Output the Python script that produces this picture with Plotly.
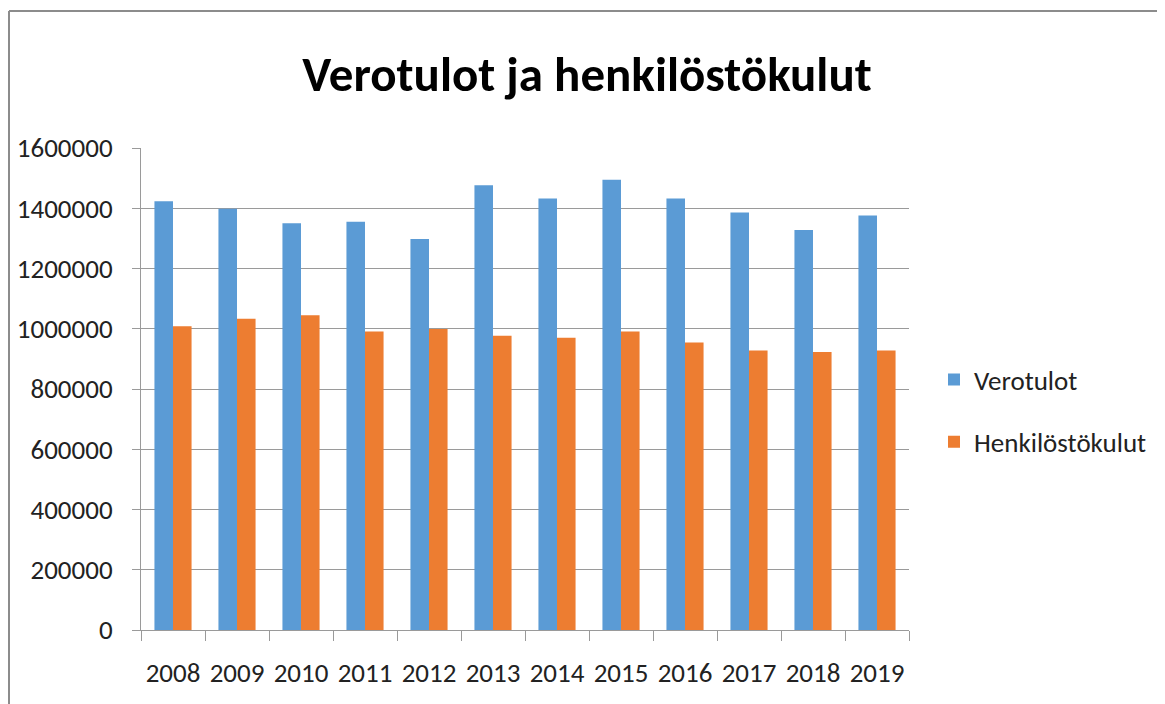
import plotly.graph_objects as go

years = ["2008", "2009", "2010", "2011", "2012", "2013", "2014", "2015", "2016", "2017", "2018", "2019"]
verotulot = [1423000, 1398000, 1350000, 1355000, 1298000, 1476000, 1432000, 1495000, 1432000, 1386000, 1328000, 1376000]
henkilostokulut = [1008000, 1033000, 1045000, 991000, 999000, 977000, 970000, 991000, 954000, 928000, 923000, 928000]

FONT = "Carlito, Calibri, 'Liberation Sans Narrow', 'DejaVu Sans Condensed', sans-serif"

fig = go.Figure()
fig.add_trace(go.Bar(x=years, y=verotulot, name="Verotulot", marker_color="#5B9BD5",
                     marker_line_width=0, legendgroup="a"))
fig.add_trace(go.Bar(x=years, y=henkilostokulut, name="Henkilöstökulut", marker_color="#ED7D31",
                     marker_line_width=0, legendgroup="b"))

# the page body adds an 8px offset; work in page pixels and convert
OFF = 8
W, H = 1157, 696
L, T = 141 - OFF, 148 - OFF
R = W - (909 - OFF)
B = H - (630 - OFF)
pw, ph = W - L - R, H - T - B

def px_x(p):
    return (p - OFF - L) / pw

def px_y(p):
    return (H - B - (p - OFF)) / ph

fig.update_layout(
    width=W, height=H,
    margin=dict(l=L, r=R, t=T, b=B, autoexpand=False),
    paper_bgcolor="white", plot_bgcolor="white",
    barmode="group", bargap=0.42, bargroupgap=0,
    font=dict(family=FONT, size=27, color="#222222"),
    title=dict(text="<b>Verotulot ja henkilöstökulut</b>", xref="container", x=(587 - OFF) / W,
               xanchor="center", yref="container", y=1 - (74 - OFF) / H, yanchor="middle",
               font=dict(family=FONT, size=49, color="black")),
    showlegend=True,
    legend=dict(x=px_x(934), xanchor="left", y=px_y(411), yanchor="middle",
                font=dict(family=FONT, size=27, color="#222222"),
                tracegroupgap=24, traceorder="grouped", itemwidth=30, bgcolor="rgba(0,0,0,0)"),
    xaxis=dict(showline=True, linecolor="#9A9A9A", linewidth=1, ticks="outside", tickson="boundaries",
               ticklen=10, tickcolor="#9A9A9A", showgrid=False, ticklabelstandoff=19, tickangle=0,
               tickfont=dict(family=FONT, size=27, color="#222222")),
    yaxis=dict(range=[0, 1600000], dtick=200000, tickformat="d", showline=True, linecolor="#9A9A9A",
               linewidth=1, ticks="outside", ticklen=8, tickcolor="#9A9A9A", showgrid=True,
               gridcolor="#9A9A9A", gridwidth=1.3, zeroline=False, ticklabelstandoff=14,
               tickfont=dict(family=FONT, size=27, color="#222222")),
    shapes=[
        dict(type="line", xref="paper", yref="paper", x0=px_x(9), x1=px_x(1170),
             y0=px_y(11), y1=px_y(11), line=dict(color="#8C8C8C", width=2), layer="below"),
        dict(type="line", xref="paper", yref="paper", x0=px_x(9), x1=px_x(9),
             y0=px_y(11), y1=px_y(710), line=dict(color="#8C8C8C", width=2), layer="below"),
    ],
)

fig.write_html("out.html")
